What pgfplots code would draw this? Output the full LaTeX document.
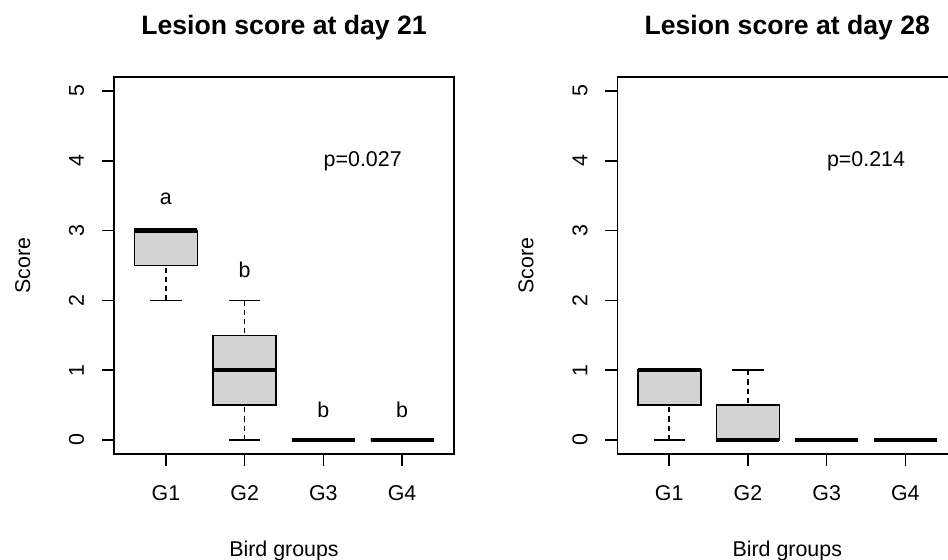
\documentclass[border=0pt]{standalone}
\usepackage{fontspec}
\setmainfont{Liberation Sans}
\usepackage{pgfplots}
\pgfplotsset{compat=1.18}
\usepgfplotslibrary{statistics}
\definecolor{boxgray}{HTML}{D3D3D3}

\pgfplotsset{
  rpanel/.style={
    scale only axis, width=170pt, height=188.5pt,
    anchor=south west,
    xmin=0.34, xmax=4.66, ymin=-0.2, ymax=5.2,
    xtick={1,2,3,4}, xticklabels={G1,G2,G3,G4},
    ytick={0,1,2,3,4,5},
    xtick pos=left, ytick pos=left,
    tick align=outside, major tick length=6pt,
    axis line style={line width=0.8pt},
    every tick/.style={black, line width=0.8pt},
    /pgf/number format/assume math mode=true,
    ticklabel style={font=\fontsize{10.7}{12}\selectfont},
    yticklabel style={rotate=90, anchor=base},
    xticklabel style={anchor=base},
    xticklabel shift=17.5pt,
    yticklabel shift=9pt,
    label style={font=\fontsize{10.7}{12}\selectfont},
    xlabel={Bird groups}, ylabel={Score},
    xlabel style={at={(axis description cs:0.5,-0.2706)}, anchor=base},
    ylabel style={at={(axis description cs:-0.247,0.5)}, anchor=base},
    title style={font=\bfseries\fontsize{13.3}{16}\selectfont,
      at={(axis description cs:0.5,1.082)}, anchor=base},
    clip=false,
  },
  rbox/.style={
    draw=black, fill=boxgray, line width=0.8pt, solid,
    boxplot/draw direction=y,
    boxplot/box extend=0.8,
    boxplot/whisker extend=0.4,
    boxplot/every median/.style={line width=2.2pt},
    boxplot/draw/lower whisker/.code={
      \draw[dash pattern=on 2.6pt off 2pt]
        (boxplot box cs:\pgfplotsboxplotvalue{lower whisker},0.5) --
        (boxplot box cs:\pgfplotsboxplotvalue{lower quartile},0.5);
      \draw (boxplot whisker cs:\pgfplotsboxplotvalue{lower whisker},0) --
        (boxplot whisker cs:\pgfplotsboxplotvalue{lower whisker},1);
    },
    boxplot/draw/upper whisker/.code={
      \draw[dash pattern=on 2.6pt off 2pt]
        (boxplot box cs:\pgfplotsboxplotvalue{upper whisker},0.5) --
        (boxplot box cs:\pgfplotsboxplotvalue{upper quartile},0.5);
      \draw (boxplot whisker cs:\pgfplotsboxplotvalue{upper whisker},0) --
        (boxplot whisker cs:\pgfplotsboxplotvalue{upper whisker},1);
    },
  },
}

\begin{document}
\begin{tikzpicture}
\path[use as bounding box, clip] (0,0) rectangle (474pt,280pt);

% day 21
\begin{axis}[rpanel, at={(57pt,53pt)}, title={Lesion score at day 21}]
\addplot[rbox, boxplot prepared={draw position=1, lower whisker=2, lower quartile=2.5, median=3, upper quartile=3, upper whisker=3}] coordinates {};
\addplot[rbox, boxplot prepared={draw position=2, lower whisker=0, lower quartile=0.5, median=1, upper quartile=1.5, upper whisker=2}] coordinates {};
\addplot[rbox, boxplot prepared={draw position=3, lower whisker=0, lower quartile=0, median=0, upper quartile=0, upper whisker=0}] coordinates {};
\addplot[rbox, boxplot prepared={draw position=4, lower whisker=0, lower quartile=0, median=0, upper quartile=0, upper whisker=0}] coordinates {};
\node[font=\fontsize{10.7}{12}\selectfont] at (axis cs:3.5,4) {p=0.027};
\node[font=\fontsize{10.7}{12}\selectfont] at (axis cs:1,3.46) {a};
\node[font=\fontsize{10.7}{12}\selectfont] at (axis cs:2,2.44) {b};
\node[font=\fontsize{10.7}{12}\selectfont] at (axis cs:3,0.43) {b};
\node[font=\fontsize{10.7}{12}\selectfont] at (axis cs:4,0.43) {b};
\end{axis}

% day 28
\begin{axis}[rpanel, at={(308.65pt,53pt)}, title={Lesion score at day 28}]
\addplot[rbox, boxplot prepared={draw position=1, lower whisker=0, lower quartile=0.5, median=1, upper quartile=1, upper whisker=1}] coordinates {};
\addplot[rbox, boxplot prepared={draw position=2, lower whisker=0, lower quartile=0, median=0, upper quartile=0.5, upper whisker=1}] coordinates {};
\addplot[rbox, boxplot prepared={draw position=3, lower whisker=0, lower quartile=0, median=0, upper quartile=0, upper whisker=0}] coordinates {};
\addplot[rbox, boxplot prepared={draw position=4, lower whisker=0, lower quartile=0, median=0, upper quartile=0, upper whisker=0}] coordinates {};
\node[font=\fontsize{10.7}{12}\selectfont] at (axis cs:3.5,4) {p=0.214};
\end{axis}
\end{tikzpicture}
\end{document}
